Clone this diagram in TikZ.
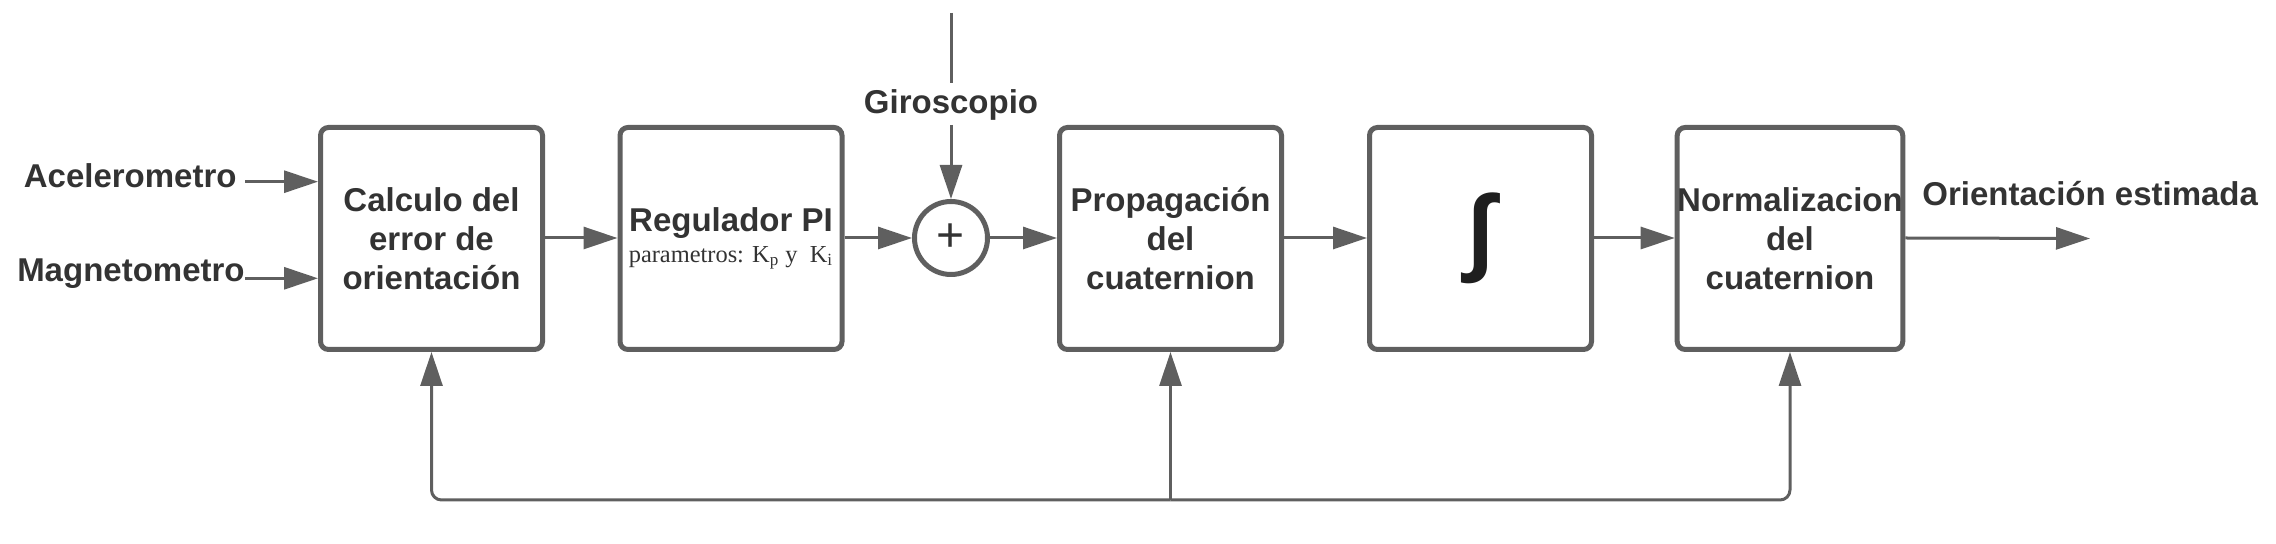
\documentclass[tikz,border=0pt]{standalone}
\usepackage{fontspec}
\setmainfont{Liberation Sans}
\newfontfamily\parfont{Liberation Serif}
\usetikzlibrary{arrows.meta}
\definecolor{linegray}{HTML}{5F5F5F}
\definecolor{txtgray}{HTML}{333333}
\begin{document}
\begin{tikzpicture}[x=0.5pt,y=-0.5pt,
  block/.style={draw=linegray, line width=2.5pt, rounded corners=4pt, minimum width=111pt, minimum height=111pt, inner sep=0pt, align=center, text=txtgray, font=\bfseries\fontsize{16.5}{19.5}\selectfont},
  sumnode/.style={circle, draw=linegray, line width=2.5pt, minimum size=36.5pt, inner sep=0pt, text=txtgray, font=\fontsize{24}{24}\selectfont},
  lbl/.style={text=txtgray, font=\bfseries\fontsize{16.5}{19.5}\selectfont, inner sep=0pt},
  conn/.style={draw=linegray, line width=1.5pt, -{Triangle[length=17pt,width=11pt]}},
  plain/.style={draw=linegray, line width=1.5pt}]
\useasboundingbox (0,0) rectangle (2276,544);
\node[block] (b1) at (431.5,238.5) {Calculo del\\error de\\orientación};
\node[block] (b2) at (731,238.5) {Regulador PI\\[-4pt]{\parfont\mdseries\fontsize{12.2}{14}\selectfont parametros: K\textsubscript{p} y\ \ K\textsubscript{i}}};
\node[sumnode] (s) at (951,238) {+};
\node[block] (b3) at (1170.5,238.5) {Propagación\\del\\cuaternion};
\node[block, font=\bfseries\fontsize{48}{48}\selectfont, text=black!88] (b4) at (1480.5,238.5) {\raisebox{3pt}{∫}};
\node[block] (b5) at (1790,238.5) {Normalizacion\\del\\cuaternion};
\node[lbl, anchor=base east] (acc) at (237,188) {Acelerometro};
\node[lbl, anchor=base east] (mag) at (245,282) {Magnetometro};
\node[lbl, anchor=base] (giro) at (951,113.6) {Giroscopio};
\node[lbl, anchor=base west] (est) at (1922,206) {Orientación estimada};
\coordinate (accA) at (245,181.7);
\coordinate (magA) at (245,278.3);
\coordinate (gtop) at (951,13);
\coordinate (out) at (2090,238.5);
\coordinate (fb) at (1170.5,500);
\draw[conn] (accA) -- (accA -| b1.west);
\draw[conn] (magA) -- (magA -| b1.west);
\draw[conn] (b1.east |- s) -- (b2.west |- s);
\draw[conn] (b2.east |- s) -- (s);
\draw[conn] (s) -- (b3.west |- s);
\draw[conn] (b3.east |- s) -- (b4.west |- s);
\draw[conn] (b4.east |- s) -- (b5.west |- s);
\draw[conn] (b5.east |- s) -- (out);
\draw[plain] (gtop) -- ([yshift=3pt]giro.north);
\draw[conn] ([yshift=-2pt]giro.south) -- (s.north);
\draw[conn, rounded corners=5pt] (fb) -| (b1.south);
\draw[conn, rounded corners=5pt] (fb) -| (b5.south);
\draw[conn] (fb) -- (b3.south);
\end{tikzpicture}
\end{document}
